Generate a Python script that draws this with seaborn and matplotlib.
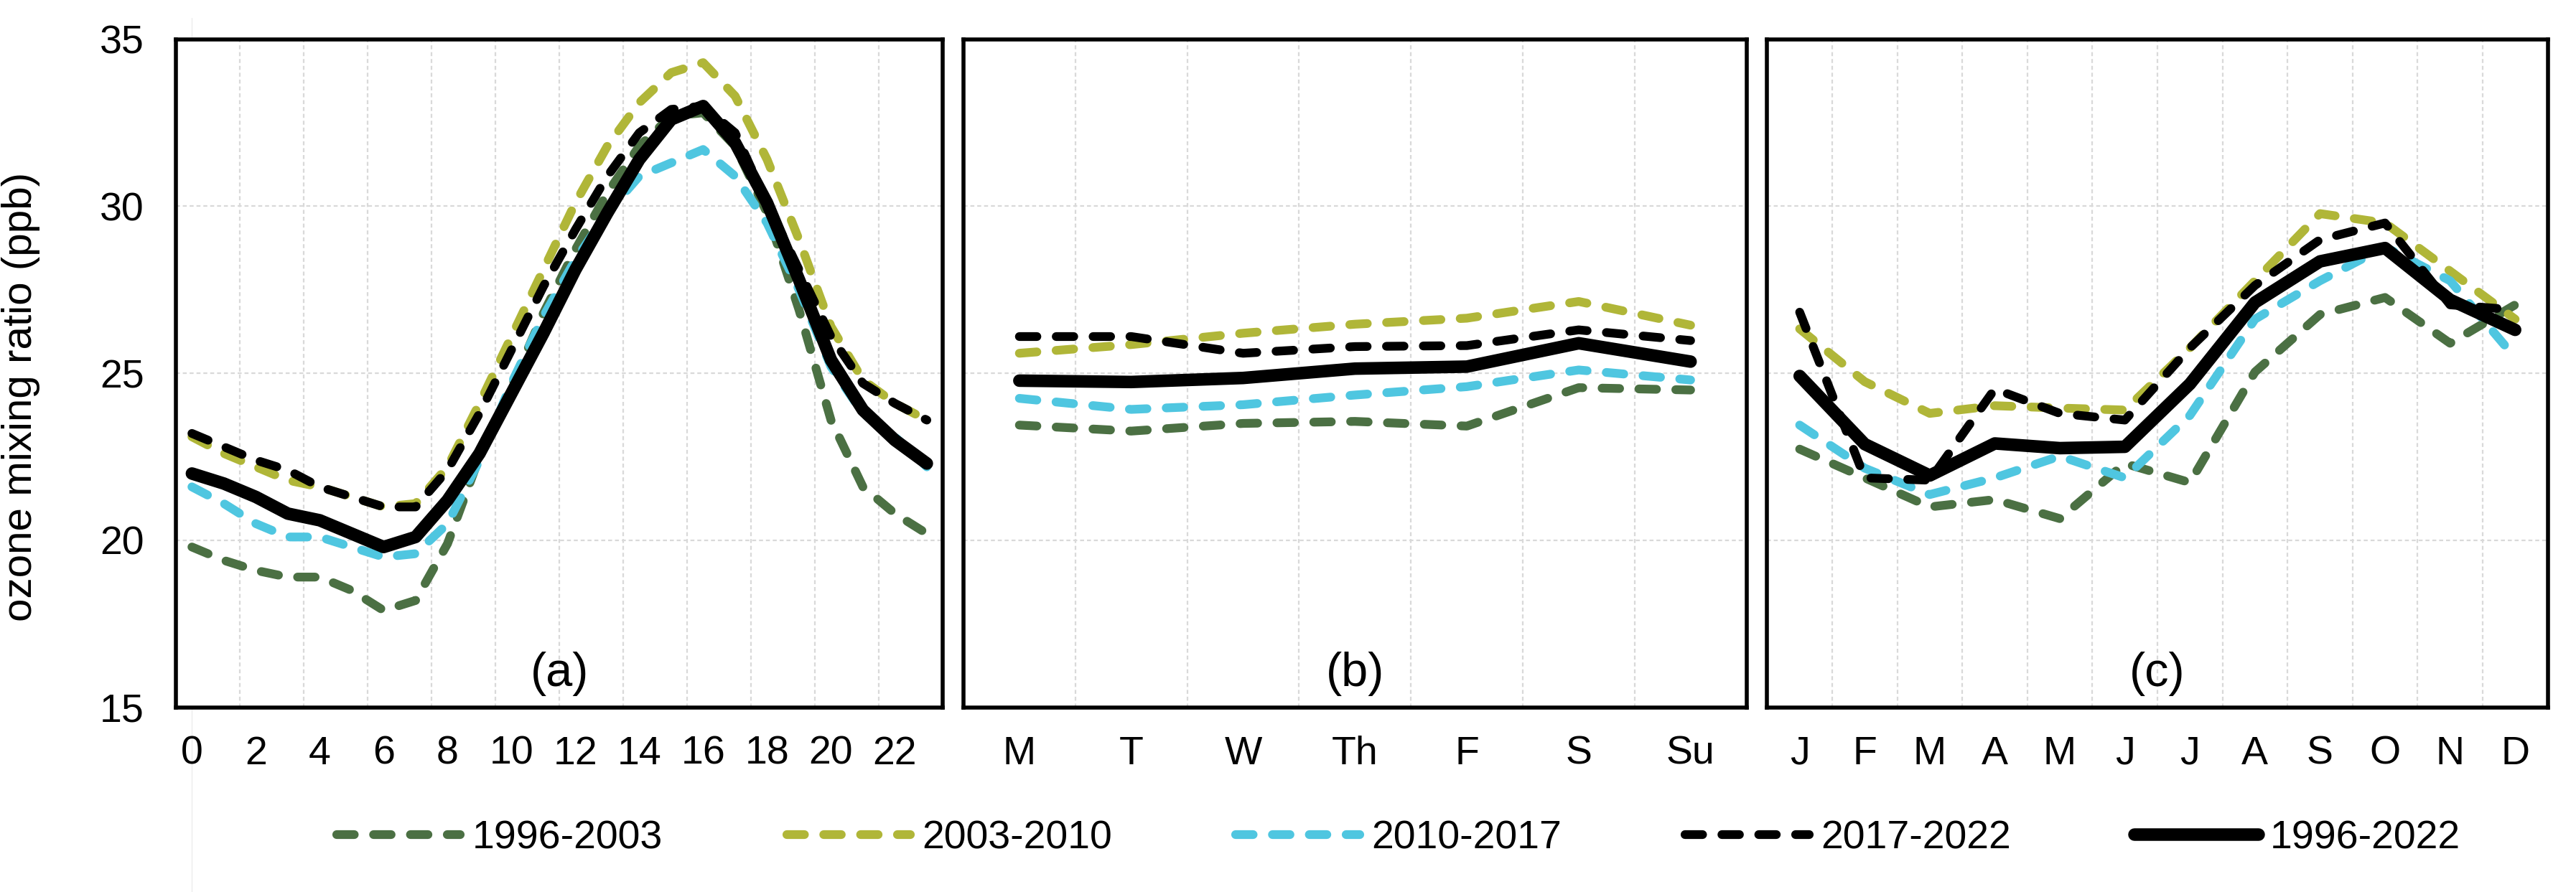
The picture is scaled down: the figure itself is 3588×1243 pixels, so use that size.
import numpy as np
import pandas as pd
import matplotlib
matplotlib.use("Agg")
import matplotlib.pyplot as plt
import seaborn as sns
from matplotlib.lines import Line2D
from matplotlib.ticker import FixedLocator

periods = ["1996-2003", "2003-2010", "2010-2017", "2017-2022", "1996-2022"]
colors = ["#4b7043", "#b0b638", "#4fc6e0", "#000000", "#000000"]

hours = list(range(24))
hour_labels = [str(h) for h in range(0, 24, 2)]
days = ["M", "T", "W", "Th", "F", "S", "Su"]
months = ["J", "F", "M", "A", "M", "J", "J", "A", "S", "O", "N", "D"]

# (a) diurnal cycle
hour_1996_2003 = [19.8, 19.4, 19.1, 18.9, 18.9, 18.5, 17.9, 18.2, 19.9, 22.5, 24.6, 26.8,
                  28.7, 30.4, 31.8, 32.7, 32.8, 31.8, 29.8, 26.9, 23.6, 21.6, 20.8, 20.2]
hour_2003_2010 = [23.1, 22.6, 22.2, 21.8, 21.6, 21.3, 21.0, 21.1, 22.2, 24.1, 26.1, 28.1,
                  30.1, 31.8, 33.1, 34.0, 34.3, 33.3, 31.4, 29.0, 26.4, 24.8, 24.1, 23.6]
hour_2010_2017 = [21.6, 21.1, 20.5, 20.1, 20.1, 19.8, 19.5, 19.6, 20.5, 22.4, 24.7, 26.7,
                  28.4, 29.8, 30.9, 31.3, 31.7, 30.9, 29.5, 27.5, 25.2, 23.8, 23.1, 22.2]
hour_2017_2022 = [23.2, 22.8, 22.4, 22.1, 21.6, 21.3, 21.0, 21.0, 22.1, 23.8, 25.7, 27.6,
                  29.3, 30.9, 32.2, 32.9, 33.0, 32.2, 30.1, 28.1, 26.1, 24.7, 24.1, 23.6]
hour_1996_2022 = [22.0, 21.7, 21.3, 20.8, 20.6, 20.2, 19.8, 20.1, 21.2, 22.6, 24.4, 26.2,
                  28.1, 29.8, 31.4, 32.6, 33.0, 31.9, 30.1, 27.8, 25.4, 23.9, 23.0, 22.3]

# (b) weekly cycle
day_1996_2003 = [23.45, 23.27, 23.5, 23.56, 23.42, 24.57, 24.5]
day_2003_2010 = [25.6, 25.86, 26.2, 26.47, 26.65, 27.15, 26.44]
day_2010_2017 = [24.25, 23.92, 24.06, 24.35, 24.6, 25.1, 24.8]
day_2017_2022 = [26.1, 26.1, 25.6, 25.8, 25.83, 26.3, 25.98]
day_1996_2022 = [24.78, 24.74, 24.86, 25.14, 25.2, 25.9, 25.35]

# (c) seasonal cycle
month_1996_2003 = [22.73, 21.87, 21.0, 21.22, 20.65, 22.3, 21.73, 25.04, 26.76, 27.27, 25.9, 27.05]
month_2003_2010 = [26.33, 24.75, 23.8, 24.03, 23.96, 23.9, 25.76, 27.77, 29.78, 29.5, 28.06, 26.62]
month_2010_2017 = [23.45, 22.16, 21.37, 21.87, 22.52, 21.87, 23.74, 26.62, 27.77, 28.78, 27.77, 25.47]
month_2017_2022 = [26.83, 21.87, 21.8, 24.53, 23.8, 23.6, 25.76, 27.63, 29.0, 29.5, 27.05, 26.9]
month_1996_2022 = [24.92, 22.88, 21.94, 22.9, 22.76, 22.8, 24.68, 27.12, 28.35, 28.75, 27.2, 26.3]


def long_frame(x, series):
    parts = []
    for name, vals in zip(periods, series):
        parts.append(pd.DataFrame({"x": x, "ozone": vals, "period": name}))
    return pd.concat(parts, ignore_index=True)


df_hour = long_frame(hours, [hour_1996_2003, hour_2003_2010, hour_2010_2017, hour_2017_2022, hour_1996_2022])
df_day = long_frame(list(range(len(days))), [day_1996_2003, day_2003_2010, day_2010_2017, day_2017_2022, day_1996_2022])
df_month = long_frame(list(range(len(months))), [month_1996_2003, month_2003_2010, month_2010_2017, month_2017_2022, month_1996_2022])

sns.set_theme(style="white")
plt.rcParams["font.family"] = ["Liberation Sans", "DejaVu Sans"]
plt.rcParams["text.color"] = "black"
plt.rcParams["axes.labelcolor"] = "black"
plt.rcParams["xtick.color"] = "black"
plt.rcParams["ytick.color"] = "black"

palette = dict(zip(periods, colors))
dash = (2.0, 2.2)
dashes = {p: dash for p in periods[:4]}
dashes["1996-2022"] = ""
sizes = {p: 4.4 for p in periods[:4]}
sizes["1996-2022"] = 6.3

fig = plt.figure(figsize=(17.94, 6.215), dpi=200)
ax_a = fig.add_axes([0.0683, 0.207, 0.2977, 0.749])
ax_b = fig.add_axes([0.374, 0.207, 0.304, 0.749])
ax_c = fig.add_axes([0.686, 0.207, 0.303, 0.749])

panels = [
    (ax_a, df_hour, (-0.5, 23.5), list(range(0, 24, 2)), hour_labels, np.arange(1.5, 23, 2), "(a)"),
    (ax_b, df_day, (-0.5, 6.5), list(range(7)), days, np.arange(0.5, 6, 1), "(b)"),
    (ax_c, df_month, (-0.5, 11.5), list(range(12)), months, np.arange(0.5, 11, 1), "(c)"),
]

grid_style = dict(color="#d9d9d9", linestyle=(0, (2.5, 1.8)), linewidth=0.8)

for ax, df, xlim, ticks, labels, minor, tag in panels:
    sns.lineplot(data=df, x="x", y="ozone", hue="period", style="period", size="period",
                 hue_order=periods, style_order=periods, size_order=periods,
                 palette=palette, dashes=dashes, sizes=sizes, ax=ax,
                 dash_capstyle="round", solid_joinstyle="round")
    ax.set_xlim(*xlim)
    ax.set_ylim(15, 35)
    ax.set_xticks(ticks)
    ax.set_xticklabels(labels)
    ax.set_yticks([15, 20, 25, 30, 35])
    ax.xaxis.set_minor_locator(FixedLocator(minor))
    ax.set_axisbelow(True)
    ax.grid(which="minor", axis="x", **grid_style)
    ax.grid(which="major", axis="y", **grid_style)
    ax.grid(which="major", axis="x", visible=False)
    ax.tick_params(which="both", length=0, labelsize=20)
    ax.tick_params(axis="x", pad=14)
    ax.tick_params(axis="y", pad=16)
    for s in ax.spines.values():
        s.set_color("black")
        s.set_linewidth(2.0)
    ax.set_xlabel("")
    ax.set_ylabel("")
    ax.text(0.5, 0.05, tag, transform=ax.transAxes, ha="center", va="center", fontsize=24)

leg = ax_a.get_legend()
handles = leg.legend_handles
texts = [t.get_text() for t in leg.get_texts()]
for ax in (ax_a, ax_b, ax_c):
    ax.get_legend().remove()

ax_b.set_yticklabels([])
ax_c.set_yticklabels([])
ax_a.set_ylabel("ozone mixing ratio (ppb)", fontsize=21)
ax_a.yaxis.set_label_coords(-0.177, 0.465)

# faint guide line left over in the original layout
fig.add_artist(Line2D([267 / 3588, 267 / 3588], [0.0, 0.98], color="#ececec", linewidth=0.5, zorder=0))

fig.legend(handles, texts, loc="center", bbox_to_anchor=(0.543, 0.06), ncol=5, frameon=False,
           fontsize=20, handlelength=3.1, columnspacing=3.1, handletextpad=0.3)

fig.savefig("out.png", dpi=200)
